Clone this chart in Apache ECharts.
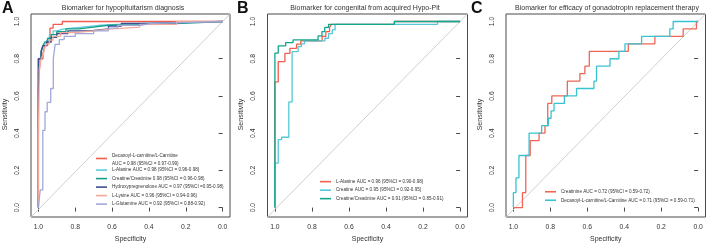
<!DOCTYPE html>
<html><head><meta charset="utf-8">
<script src="https://cdn.jsdelivr.net/npm/echarts@6/dist/echarts.min.js"></script>
<style>html,body{margin:0;padding:0;background:#fff}#c{width:708px;height:248px}</style>
</head><body><div id="c"></div>
<script>
// ---------- DATA ----------
const TICKS_MIN = 0, TICKS_MAX = 1, TICK_STEP = 0.2;
const AX_MIN = -0.04, AX_MAX = 1.04;   // R plot region extends 4% beyond data
const LETTERS = ['A', 'B', 'C'];
const TITLES = [
  'Biomarker for hypopituitarism diagnosis',
  'Biomarker for congenital from acquired Hypo-Pit',
  'Biomarker for efficacy of gonadotropin replacement therapy'
];
const X_NAME = 'Specificity';
const Y_NAME = 'Sensitivity';

// Panel A  (specificity, sensitivity)
const A_NAMES = [
  'Decanoyl-L-carnitine/L-Carnitine\nAUC = 0.98 (95%CI = 0.97-0.99)',
  'L-Alanine AUC = 0.98 (95%CI = 0.96-0.98)',
  'Creatine/Creatinine 0.98 (95%CI = 0.96-0.98)',
  'Hydroxypregnenolone AUC = 0.97 (95%CI =0.95-0.98)',
  'L-Lysine AUC = 0.96 (95%CI = 0.94-0.96)',
  'L-Glutamine AUC = 0.92 (95%CI = 0.88-0.92)'
];
const A_COLORS = ['#EF5B4C', '#63C9DC', '#16A08A', '#3D4C8E', '#F6A89A', '#A2A8D8'];
const A_DECANOYL = [[1,0],[1,0.65],[0.99,0.65],[0.99,0.80],[0.975,0.80],[0.975,0.83],[0.965,0.83],[0.965,0.87],[0.95,0.87],[0.95,0.89],[0.937,0.89],[0.937,0.965],[0.92,0.965],[0.92,0.985],[0.87,0.985],[0.87,1],[0,1]];
const A_ALANINE = [[1,0],[1,0.72],[0.99,0.72],[0.99,0.80],[0.98,0.80],[0.98,0.86],[0.97,0.86],[0.97,0.88],[0.955,0.88],[0.955,0.90],[0.94,0.90],[0.94,0.93],[0.92,0.93],[0.92,0.95],[0.90,0.95],[0.90,0.96],[0.86,0.96],[0.86,0.97],[0.76,0.97],[0.76,0.98],[0.66,0.98],[0.66,0.99],[0.45,0.99],[0.45,1],[0,1]];
const A_CREATINE = [[1,0],[1,0.80],[0.985,0.80],[0.985,0.84],[0.975,0.84],[0.975,0.87],[0.965,0.87],[0.965,0.89],[0.95,0.89],[0.95,0.91],[0.93,0.91],[0.93,0.93],[0.90,0.93],[0.90,0.945],[0.85,0.945],[0.85,0.96],[0.78,0.96],[0.78,0.97],[0.70,0.97],[0.70,0.98],[0.62,0.98],[0.62,0.99],[0.22,0.99],[0.22,1],[0,1]];
const A_HYDROXY = [[1,0],[1,0.80],[0.985,0.80],[0.985,0.84],[0.975,0.84],[0.975,0.87],[0.955,0.87],[0.955,0.89],[0.93,0.89],[0.93,0.915],[0.90,0.915],[0.90,0.935],[0.84,0.935],[0.84,0.95],[0.72,0.95],[0.72,0.96],[0.62,0.96],[0.62,0.975],[0.55,0.975],[0.55,0.99],[0.40,0.99],[0.40,1],[0,1]];
const A_LYSINE = [[1,0],[1,0.37],[0.995,0.37],[0.995,0.75],[0.985,0.75],[0.985,0.80],[0.975,0.80],[0.975,0.82],[0.965,0.82],[0.965,0.86],[0.955,0.86],[0.955,0.88],[0.94,0.88],[0.94,0.90],[0.92,0.90],[0.92,0.92],[0.88,0.92],[0.88,0.94],[0.80,0.94],[0.80,0.95],[0.70,0.95],[0.70,0.96],[0.60,0.96],[0.60,0.97],[0.45,0.97],[0.45,0.985],[0.25,0.985],[0.25,1],[0,1]];
const A_GLUTAMINE = [[1,0],[0.99,0],[0.99,0.095],[0.976,0.095],[0.976,0.415],[0.964,0.415],[0.964,0.515],[0.952,0.515],[0.952,0.565],[0.933,0.565],[0.933,0.64],[0.919,0.64],[0.919,0.80],[0.909,0.80],[0.909,0.877],[0.886,0.877],[0.886,0.903],[0.86,0.903],[0.86,0.92],[0.80,0.92],[0.80,0.935],[0.70,0.935],[0.70,0.95],[0.62,0.95],[0.62,0.965],[0.57,0.965],[0.57,0.98],[0.45,0.98],[0.45,0.99],[0.38,0.99],[0.38,1],[0,1]];

// Panel B
const B_NAMES = [
  'L-Alanine AUC = 0.96 (95%CI = 0.90-0.98)',
  'Creatine AUC = 0.95 (95%CI = 0.92-0.95)',
  'Creatine/Creatinine AUC = 0.91 (95%CI = 0.85-0.91)'
];
const B_COLORS = ['#EF5F50', '#55C7D6', '#12A68B'];
const B_ALANINE = [[1,0],[1,0.676],[0.982,0.676],[0.982,0.784],[0.946,0.784],[0.946,0.829],[0.919,0.829],[0.919,0.856],[0.883,0.856],[0.883,0.878],[0.86,0.878],[0.86,0.896],[0.745,0.896],[0.745,0.92],[0.725,0.92],[0.725,0.946],[0.705,0.946],[0.705,0.968],[0.695,0.968],[0.695,0.985],[0.355,0.985],[0.355,1],[0,1]];
const B_CREATINE = [[1,0],[1,0.239],[0.982,0.239],[0.982,0.365],[0.964,0.365],[0.964,0.378],[0.925,0.378],[0.925,0.568],[0.907,0.568],[0.907,0.838],[0.875,0.838],[0.875,0.865],[0.857,0.865],[0.857,0.88],[0.84,0.88],[0.84,0.896],[0.73,0.896],[0.73,0.91],[0.71,0.91],[0.71,0.935],[0.69,0.935],[0.69,0.955],[0.675,0.955],[0.675,0.985],[0.122,0.985],[0.122,1],[0,1]];
const B_RATIO = [[1,0],[1,0.83],[0.982,0.83],[0.982,0.869],[0.942,0.869],[0.942,0.887],[0.902,0.887],[0.902,0.901],[0.767,0.901],[0.767,0.923],[0.746,0.923],[0.746,0.946],[0.731,0.946],[0.731,0.968],[0.71,0.968],[0.71,0.985],[0.355,0.985],[0.355,1],[0,1]];

// Panel C
const C_NAMES = [
  'Creatinine AUC = 0.72 (95%CI = 0.59-0.72)',
  'Decanoyl-L-carnitine/L-Carnitine AUC = 0.71 (95%CI = 0.59-0.71)'
];
const C_COLORS = ['#EF6655', '#38C3D1'];
const C_CREATININE = [[1,0],[0.951,0],[0.951,0.08],[0.933,0.08],[0.933,0.28],[0.909,0.28],[0.909,0.36],[0.861,0.36],[0.861,0.40],[0.829,0.40],[0.829,0.44],[0.814,0.44],[0.814,0.56],[0.792,0.56],[0.792,0.60],[0.708,0.60],[0.708,0.68],[0.64,0.68],[0.64,0.72],[0.613,0.72],[0.613,0.76],[0.589,0.76],[0.589,0.84],[0.378,0.84],[0.378,0.88],[0.234,0.88],[0.234,0.92],[0.081,0.92],[0.081,0.96],[0.009,0.96],[0.009,1],[0,1]];
const C_DECANOYL = [[1,0],[1,0.08],[0.986,0.08],[0.986,0.16],[0.97,0.16],[0.97,0.28],[0.915,0.28],[0.915,0.40],[0.847,0.40],[0.847,0.44],[0.811,0.44],[0.811,0.48],[0.796,0.48],[0.796,0.52],[0.78,0.52],[0.78,0.56],[0.724,0.56],[0.724,0.60],[0.658,0.60],[0.658,0.64],[0.564,0.64],[0.564,0.68],[0.55,0.68],[0.55,0.76],[0.477,0.76],[0.477,0.80],[0.429,0.80],[0.429,0.84],[0.396,0.84],[0.396,0.88],[0.306,0.88],[0.306,0.92],[0.153,0.92],[0.153,0.96],[0.135,0.96],[0.135,1],[0,1]];

// ---------- LAYOUT / STYLE ----------
const FONT = 'Liberation Sans, Arial, Helvetica, sans-serif';
const PANELS = [
  { box: {l: 31, t: 14, w: 199, h: 203}, titleX: 123, letterX: 2,
    names: A_NAMES, colors: A_COLORS,
    data: [A_DECANOYL, A_ALANINE, A_CREATINE, A_HYDROXY, A_LYSINE, A_GLUTAMINE],
    legend: {left: 96, top: 151.2} },
  { box: {l: 267.5, t: 14, w: 200, h: 203}, titleX: 365, letterX: 237,
    names: B_NAMES, colors: B_COLORS,
    data: [B_ALANINE, B_CREATINE, B_RATIO],
    legend: {left: 320, top: 177.4} },
  { box: {l: 506, t: 14, w: 199.5, h: 203}, titleX: 607, letterX: 471,
    names: C_NAMES, colors: C_COLORS,
    data: [C_CREATININE, C_DECANOYL],
    legend: {left: 545, top: 187.5} }
];

const grids = [], xAxes = [], yAxes = [], series = [], legends = [], graphics = [];
const span = AX_MAX - AX_MIN;
const fmt = v => v.toFixed(1);

PANELS.forEach((p, i) => {
  const b = p.box;
  const dx = b.w * (TICKS_MIN - AX_MIN) / span;
  const dy = b.h * (TICKS_MIN - AX_MIN) / span;
  const fg = 2 * i, dg = 2 * i + 1;
  // frame grid (plot box)
  grids.push({left: b.l, top: b.t, width: b.w, height: b.h, show: true,
    borderColor: '#4a4a4a', borderWidth: 1, backgroundColor: 'transparent'});
  // data grid
  grids.push({left: b.l + dx, top: b.t + dy, width: b.w - 2 * dx, height: b.h - 2 * dy});
  xAxes.push({gridIndex: fg, type: 'value', min: AX_MIN, max: AX_MAX, inverse: true, show: false});
  yAxes.push({gridIndex: fg, type: 'value', min: AX_MIN, max: AX_MAX, show: false});
  xAxes.push({gridIndex: dg, type: 'value', min: TICKS_MIN, max: TICKS_MAX, interval: TICK_STEP,
    inverse: true, position: 'bottom', offset: dy,
    axisLine: {show: false}, splitLine: {show: false},
    axisTick: {show: true, inside: false, length: 4, lineStyle: {color: '#4a4a4a', width: 1}},
    axisLabel: {formatter: fmt, margin: 9, fontSize: 6.8, color: '#333', fontFamily: FONT},
    name: X_NAME, nameLocation: 'middle', nameGap: 19.5,
    nameTextStyle: {fontSize: 7, color: '#333', fontFamily: FONT}});
  yAxes.push({gridIndex: dg, type: 'value', min: TICKS_MIN, max: TICKS_MAX, interval: TICK_STEP,
    position: 'left', offset: dx,
    axisLine: {show: false}, splitLine: {show: false},
    axisTick: {show: true, inside: false, length: 4, lineStyle: {color: '#4a4a4a', width: 1}},
    axisLabel: {formatter: fmt, rotate: 90, margin: 10.5, fontSize: 6.8, color: '#333', fontFamily: FONT},
    name: Y_NAME, nameLocation: 'middle', nameGap: 22.5,
    nameTextStyle: {fontSize: 7, color: '#333', fontFamily: FONT}});
  // diagonal reference line across the whole plot region
  series.push({type: 'line', xAxisIndex: fg, yAxisIndex: fg, silent: true,
    data: [[AX_MAX, AX_MIN], [AX_MIN, AX_MAX]], showSymbol: false, symbol: 'none',
    lineStyle: {color: '#cfcfcf', width: 1}, clip: true, z: 1});
  p.data.forEach((d, k) => {
    series.push({type: 'line', name: p.names[k], xAxisIndex: dg, yAxisIndex: dg,
      data: d, showSymbol: false, symbol: 'none', clip: false,
      color: p.colors[k], itemStyle: {color: p.colors[k]},
      lineStyle: {color: p.colors[k], width: 1.3}, z: 2 + k});
  });
  legends.push({data: p.names.map(n => ({name: n, icon: 'rect'})), orient: 'vertical',
    left: p.legend.left, top: p.legend.top, padding: 0, itemGap: 0,
    itemWidth: 11, itemHeight: 1.6, selectedMode: false,
    formatter: n => {
      if (n.indexOf('\n') >= 0) { const s = n.split('\n'); return '{a|' + s[0] + '}\n{b|' + s[1] + '}'; }
      return n;
    },
    textStyle: {fontSize: 4.6, lineHeight: 8.5, color: '#333', fontFamily: FONT,
      rich: {a: {fontSize: 4.6, lineHeight: 9.7, color: '#333', fontFamily: FONT},
             b: {fontSize: 4.6, lineHeight: 4.9, color: '#333', fontFamily: FONT}}}});
  graphics.push({type: 'text', left: p.letterX, top: 1,
    style: {text: LETTERS[i], fontSize: 16, fontWeight: 'bold', fill: '#111', fontFamily: FONT}});
  graphics.push({type: 'text', x: p.titleX, y: 8,
    style: {text: TITLES[i], fontSize: 7, fill: '#333', fontFamily: FONT, textAlign: 'center', textVerticalAlign: 'middle'}});
});

const chart = echarts.init(document.getElementById('c'), null, {renderer: 'canvas'});
chart.setOption({
  animation: false,
  backgroundColor: '#ffffff',
  grid: grids, xAxis: xAxes, yAxis: yAxes,
  series: series, legend: legends, graphic: graphics
});
</script></body></html>
